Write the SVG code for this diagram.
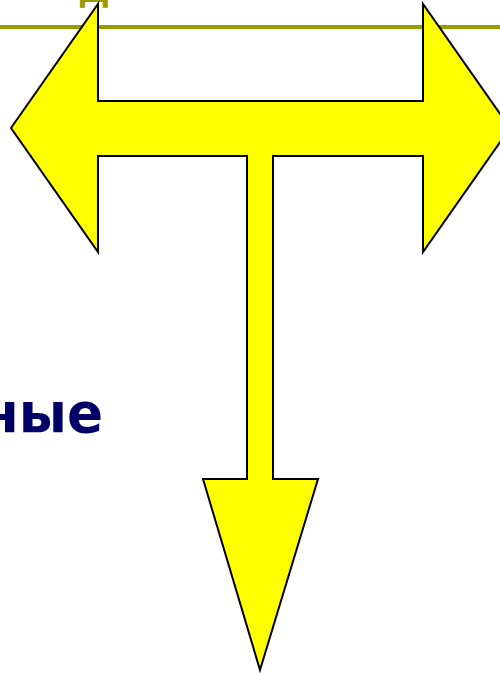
<svg xmlns="http://www.w3.org/2000/svg" width="500" height="673" viewBox="0 0 500 673">
<style>
.arrow{fill:#ffff00;stroke:#000;stroke-width:2;stroke-linejoin:miter}
.title{fill:#999900;font-family:"DejaVu Sans",sans-serif;font-weight:bold}
.body{fill:#000066;font-family:"DejaVu Sans",sans-serif;font-weight:bold}
</style>
<rect width="500" height="673" fill="#fff"/>
<g id="title-fragments">
<text class="title" x="94" y="2" font-size="40" text-anchor="middle">д</text>
</g>
<line id="rule" x1="0" y1="27" x2="500" y2="27" stroke="#999900" stroke-width="4"/>
<g id="text">
<text class="body" x="-18" y="432" font-size="55" textLength="121" lengthAdjust="spacingAndGlyphs">ные</text>
</g>
<g id="tee-arrow">
<path class="arrow" d="M11,128 L98,4 L98,101 L423,101 L423,4 L510,128 L423,252 L423,156 L273,156 L273,479 L318,479 L260,670 L203,479 L247,479 L247,156 L98,156 L98,252 Z"/>
</g>
</svg>
